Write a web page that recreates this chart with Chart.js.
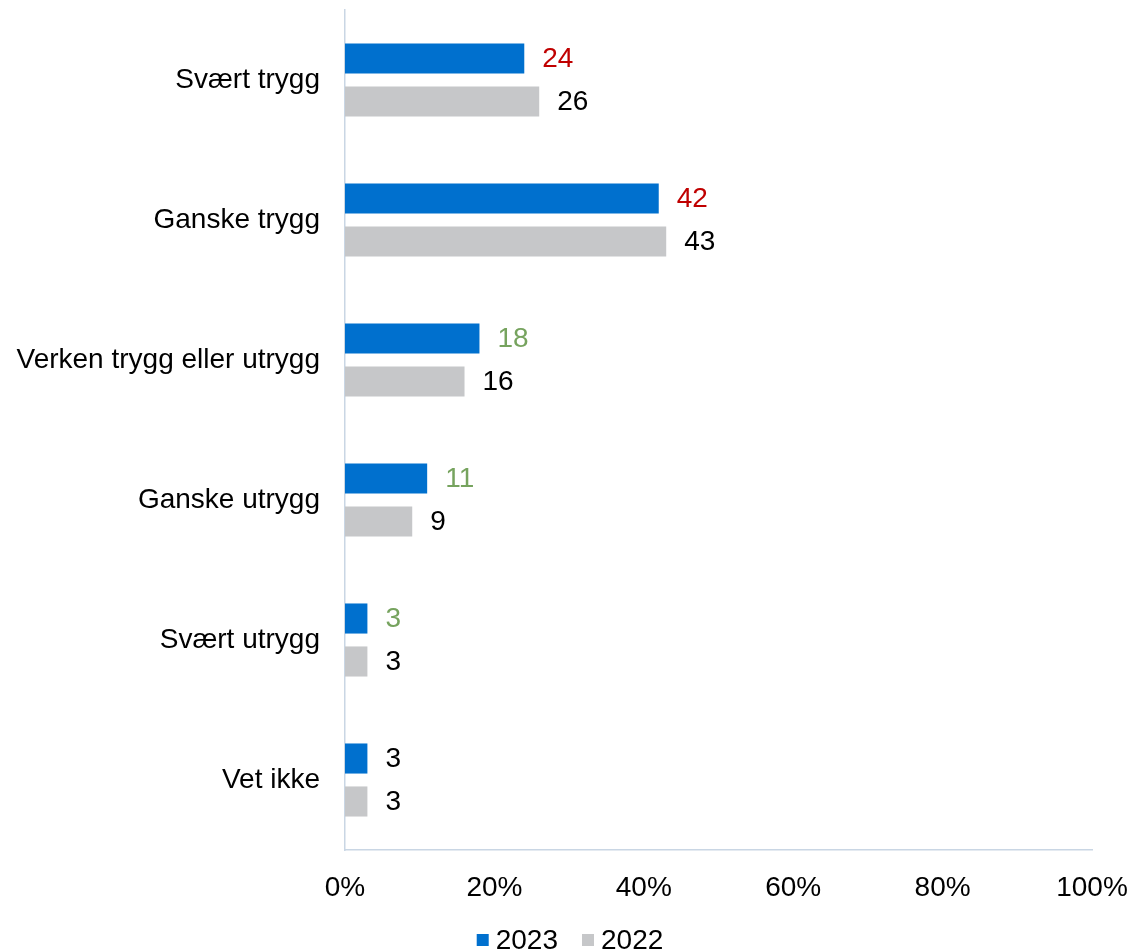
<!DOCTYPE html>
<html>
<head>
<meta charset="utf-8">
<script src="https://cdn.jsdelivr.net/npm/chart.js@4.4.1/dist/chart.umd.min.js"></script>
<style>
  body { margin: 0; background: #fff; }
  .wrap { width: 1132px; height: 950px; }
</style>
</head>
<body>
<div class="wrap"><canvas id="chart"></canvas></div>
<script>
// data
const categories = ['Svært trygg', 'Ganske trygg', 'Verken trygg eller utrygg', 'Ganske utrygg', 'Svært utrygg', 'Vet ikke']
const values2023 = [24, 42, 18, 11, 3, 3]
const values2022 = [26, 43, 16, 9, 3, 3]
const xTicks = [0, 20, 40, 60, 80, 100]

// label colours (red = down, green = up, black = same)
const RED = '#C00000'
const GREEN = '#76A35E'
const BLACK = '#000000'
const labelColors2023 = [RED, RED, GREEN, GREEN, GREEN, BLACK]
const labelColors2022 = [BLACK, BLACK, BLACK, BLACK, BLACK, BLACK]

const FONT = "'Liberation Sans', Arial, sans-serif"
const FONT_SIZE = 28
Chart.defaults.font.family = FONT
Chart.defaults.color = '#000'

// start: bar value labels
const valueLabels = {
    id: 'valueLabels',
    afterDatasetsDraw(chart) {
        const ctx = chart.ctx
        ctx.save()
        ctx.font = FONT_SIZE + 'px ' + FONT
        ctx.textAlign = 'left'
        ctx.textBaseline = 'middle'
        chart.data.datasets.forEach(function (ds, di) {
            const meta = chart.getDatasetMeta(di)
            meta.data.forEach(function (bar, i) {
                ctx.fillStyle = ds.labelColors[i]
                ctx.fillText(ds.data[i], bar.x + 18, bar.y + 1)
            })
        })
        ctx.restore()
    }
}
// end: bar value labels

// start: legend (drawn by hand to get Excel-like spacing)
const bottomLegend = {
    id: 'bottomLegend',
    afterDraw(chart) {
        const ctx = chart.ctx
        const box = 12, gap = 7, itemGap = 24, y = 940
        ctx.save()
        ctx.font = FONT_SIZE + 'px ' + FONT
        ctx.textBaseline = 'middle'
        ctx.textAlign = 'left'
        const items = chart.data.datasets.map(ds => ({
            text: ds.label,
            color: ds.backgroundColor,
            w: box + gap + ctx.measureText(ds.label).width
        }))
        const total = items.reduce((s, it) => s + it.w, 0) + itemGap * (items.length - 1)
        let x = chart.width / 2 - total / 2 + 4
        items.forEach(function (it) {
            ctx.fillStyle = it.color
            ctx.fillRect(x, y - box / 2, box, box)
            ctx.fillStyle = '#000'
            ctx.fillText(it.text, x + box + gap, y + 1)
            x += it.w + itemGap
        })
        ctx.restore()
    }
}
// end: legend

new Chart(document.getElementById('chart'), {
    type: 'bar',
    data: {
        labels: categories,
        datasets: [
            {
                label: '2023',
                data: values2023,
                backgroundColor: '#0070CE',
                labelColors: labelColors2023,
                categoryPercentage: 0.614,
                barPercentage: 0.7
            },
            {
                label: '2022',
                data: values2022,
                backgroundColor: '#C6C7C9',
                labelColors: labelColors2022,
                categoryPercentage: 0.614,
                barPercentage: 0.7
            }
        ]
    },
    options: {
        indexAxis: 'y',
        responsive: true,
        maintainAspectRatio: false,
        animation: false,
        layout: {
            padding: { top: 10, right: 40, left: 0, bottom: 44 }
        },
        scales: {
            x: {
                min: 0,
                max: 100,
                afterBuildTicks: function (scale) {
                    scale.ticks = xTicks.map(v => ({ value: v }))
                },
                afterFit: function (scale) {
                    scale.height = 56
                    scale.paddingLeft = 0
                    scale.paddingRight = 0
                },
                grid: { display: false, drawTicks: false },
                border: { color: '#C9D6E4', width: 1.5 },
                ticks: {
                    padding: 21,
                    font: { size: FONT_SIZE },
                    color: '#000',
                    callback: v => v + '%'
                }
            },
            y: {
                afterFit: function (scale) {
                    scale.width = 345
                    scale.paddingTop = 0
                    scale.paddingBottom = 0
                },
                grid: { display: false, drawTicks: false },
                border: { color: '#C9D6E4', width: 1.5 },
                ticks: {
                    padding: 25,
                    font: { size: FONT_SIZE },
                    color: '#000'
                }
            }
        },
        plugins: {
            legend: { display: false },
            tooltip: { enabled: false }
        }
    },
    plugins: [valueLabels, bottomLegend]
})
</script>
</body>
</html>
